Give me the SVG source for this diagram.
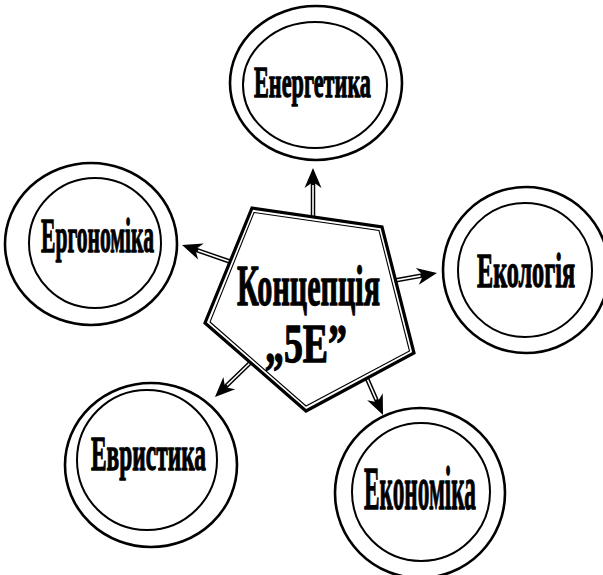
<svg xmlns="http://www.w3.org/2000/svg" width="603" height="575" viewBox="0 0 603 575">
<style>
.outer{fill:#fff;stroke:#000;stroke-width:2.6}
.inner{fill:none;stroke:#000;stroke-width:2}
.lbl{font-family:"Liberation Serif","Times New Roman",serif;font-weight:bold;fill:#000;stroke:#000;stroke-width:1.3;stroke-linejoin:round;text-anchor:middle}
.shaft{stroke:#000;stroke-width:4.5;fill:none}
.gap{stroke:#fff;stroke-width:1.6;fill:none}
</style>
<defs>
<marker id="ah" markerUnits="userSpaceOnUse" orient="auto" refX="0" refY="0" markerWidth="40" markerHeight="40" overflow="visible">
<path d="M8,0 L-12,-8.5 L-6,0 L-12,8.5 Z" fill="#000"/>
</marker>
</defs>
<rect width="603" height="575" fill="#fff"/>
<g id="connectors">
<line class="shaft" x1="313" y1="222" x2="313" y2="176" marker-end="url(#ah)"/>
<line class="gap" x1="313" y1="219" x2="313" y2="185"/>
<line class="shaft" x1="234" y1="263" x2="189.6" y2="247.6" marker-end="url(#ah)"/>
<line class="shaft" x1="392" y1="281" x2="429.1" y2="274.3" marker-end="url(#ah)"/>
<line class="shaft" x1="251" y1="362" x2="220.7" y2="391.4" marker-end="url(#ah)"/>
<line class="shaft" x1="365" y1="374" x2="379.8" y2="407.7" marker-end="url(#ah)"/>
<line class="gap" x1="234" y1="263" x2="198" y2="250.5"/>
<line class="gap" x1="392" y1="281" x2="420.5" y2="275.9"/>
<line class="gap" x1="251" y1="362" x2="227" y2="385.3"/>
<line class="gap" x1="365" y1="374" x2="376.2" y2="399.5"/>
</g>
<g id="center">
<polygon points="252,208 382,227 414,353 306,411 205,323" fill="#fff" stroke="#000" stroke-width="3.2" stroke-linejoin="miter"/>
<polygon points="254,212.5 379,230.5 409.5,351 306,406 210,322" fill="none" stroke="#000" stroke-width="1.1"/>
<text class="lbl" x="308.5" y="305" font-size="57" textLength="143" lengthAdjust="spacingAndGlyphs">Концепція</text>
<text class="lbl" x="306" y="362" font-size="55" textLength="82" lengthAdjust="spacingAndGlyphs">„5E”</text>
</g>
<g id="energetyka">
<ellipse class="outer" cx="316" cy="83" rx="86" ry="77"/>
<ellipse class="inner" cx="315" cy="85" rx="72" ry="63"/>
<text class="lbl" x="312.5" y="97" font-size="45" textLength="117" lengthAdjust="spacingAndGlyphs">Енергетика</text>
</g>
<g id="ergonomika">
<ellipse class="outer" cx="91" cy="244" rx="86" ry="81"/>
<ellipse class="inner" cx="95" cy="243" rx="66" ry="65"/>
<text class="lbl" x="97.5" y="252" font-size="49" textLength="113" lengthAdjust="spacingAndGlyphs">Ергономіка</text>
</g>
<g id="ekolohiia">
<ellipse class="outer" cx="526" cy="270" rx="83" ry="83"/>
<ellipse class="inner" cx="525" cy="270" rx="67" ry="67"/>
<text class="lbl" x="526" y="287" font-size="49" textLength="98" lengthAdjust="spacingAndGlyphs">Екологія</text>
</g>
<g id="evrystyka">
<ellipse class="outer" cx="151" cy="465" rx="86" ry="82"/>
<ellipse class="inner" cx="147" cy="460" rx="70" ry="70"/>
<text class="lbl" x="148.5" y="470" font-size="49" textLength="115" lengthAdjust="spacingAndGlyphs">Евристика</text>
</g>
<g id="ekonomika">
<ellipse class="outer" cx="420" cy="493" rx="85" ry="85"/>
<ellipse class="inner" cx="421" cy="492" rx="69" ry="69"/>
<text class="lbl" x="420" y="509" font-size="62" textLength="112" lengthAdjust="spacingAndGlyphs">Економіка</text>
</g>
</svg>
